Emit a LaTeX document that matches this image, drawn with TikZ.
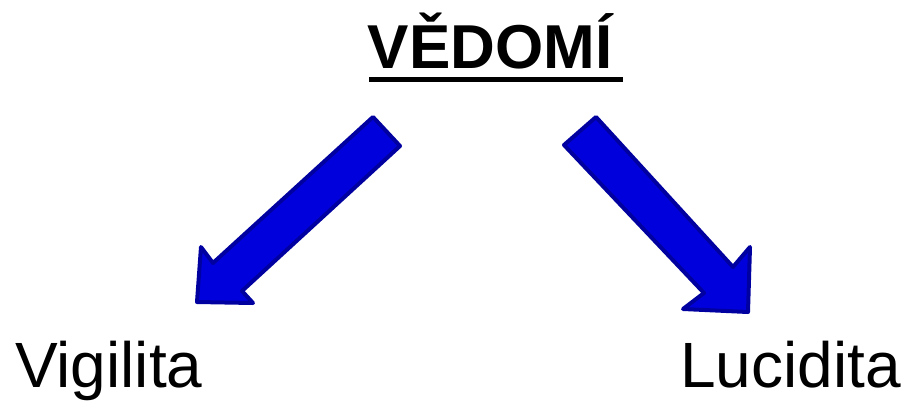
\documentclass[tikz,border=0pt]{standalone}
\usepackage{fontspec}
\setmainfont{Liberation Sans}
\definecolor{arrowfill}{RGB}{0,0,221}
\definecolor{arrowline}{RGB}{0,0,160}
\begin{document}
\begin{tikzpicture}[x=1pt,y=-1pt,
  bigarrow/.style={fill=arrowfill,draw=arrowline,line width=4pt,line join=round},
  label/.style={inner sep=0pt,anchor=base west,font=\fontsize{64}{72}\selectfont},
  titletext/.style={inner sep=0pt,anchor=base,font=\fontsize{62}{70}\selectfont\bfseries}]
\useasboundingbox (0,0) rectangle (908,402);
\node[titletext] (title) at (490,68) {VĚDOMÍ};
\fill (369,77) rectangle (623,82);
\draw[bigarrow] (373,117) -- (400,146) -- (242,291) -- (253,303) -- (197,302) -- (201,247) -- (213,263) -- cycle;
\draw[bigarrow] (564,145) -- (596,117) -- (733,267) -- (750,247) -- (748,312) -- (683,309) -- (704,293) -- cycle;
\node[label] (vig) at (15,387) {Vigilita};
\node[label] (luc) at (680,387) {Lucidita};
\end{tikzpicture}
\end{document}
